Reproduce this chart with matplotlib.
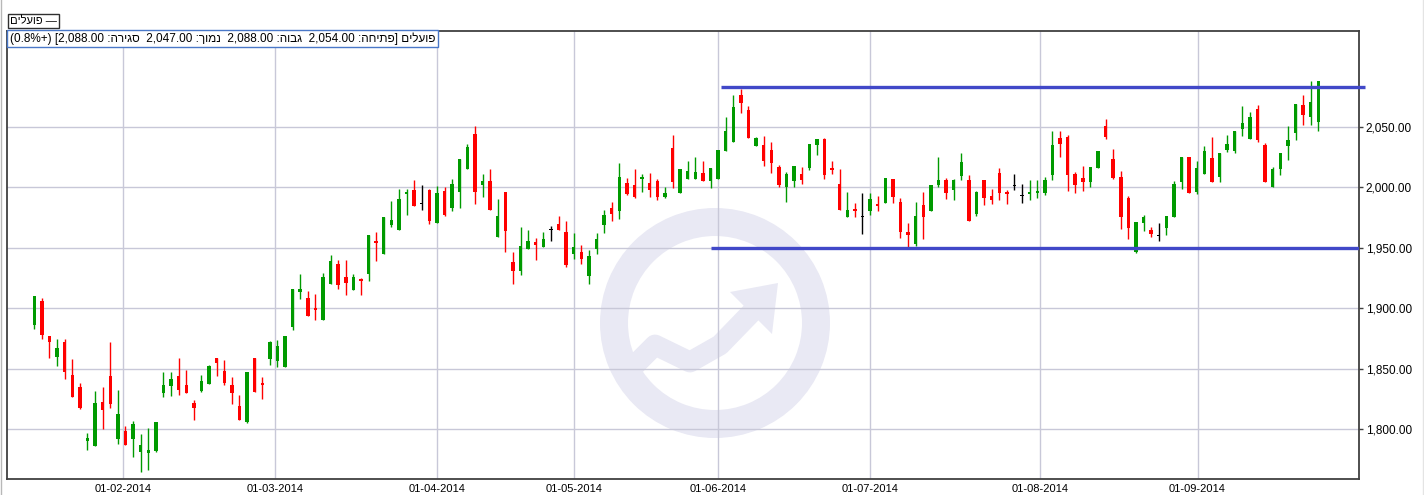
import matplotlib
matplotlib.use('Agg')
import matplotlib.pyplot as plt
from matplotlib.patches import Wedge, Polygon
from matplotlib.lines import Line2D
import numpy as np

# daily OHLC (trading days, 20-01-2014 .. 22-09-2014)
opens = [1886, 1906, 1877, 1860, 1872, 1845, 1835, 1790.5, 1786, 1822.5,
         1844, 1792, 1798.6, 1792, 1781, 1780, 1782, 1830, 1836, 1844,
         1836.6, 1822, 1831.6, 1837.7, 1859, 1848, 1836.6, 1819, 1806, 1859,
         1838.3, 1858, 1856.5, 1851.5, 1885, 1913.8, 1908.6, 1900.3, 1890.6, 1920.4,
         1936.7, 1926, 1915.4, 1924.3, 1928.7, 1955.7, 1945, 1969, 1965, 1994.8,
         1998, 1986, 1998, 1970.6, 1997, 1983.3, 1996.5, 2015.5, 2044, 2002.3,
         2005.3, 1959.3, 1996, 1938.3, 1931, 1949.3, 1955, 1951, 1965, 1970,
         1963.4, 1945.2, 1946.7, 1926.4, 1949.3, 1969.2, 1983, 1980.8, 2003.7, 2002,
         2007, 2003.7, 2005.3, 1992.1, 2032.6, 1995.4, 2007, 2007, 2012, 2005.6,
         2007.2, 2030.4, 2037.8, 2076.5, 2064.1, 2034.5, 2035.1, 2031, 2017.1, 2000.6,
         2005.6, 2011.1, 2016.1, 2035.4, 2040.1, 2016.1, 2002.9, 1975.8, 1982.2, 1975.6,
         1980.8, 1986.2, 1987.4, 2007, 1988, 1963.2, 1953.5, 1985.4, 1980.8, 2002.3,
         2006.2, 1998.2, 2009.7, 2006.2, 1978.3, 2006.2, 1992.9, 2012, 1996.2, 2001,
         1992.7, 1994.8, 1995.6, 1995.7, 2010.3, 2040.9, 2041.7, 2011.1, 2007.8, 2004.7,
         2016.1, 2050.8, 2023.5, 2008.7, 1991.3, 1946.9, 1970.9, 1965.1, 1960.1, 1966.7,
         1975.8, 2004.7, 2025.2, 1996.2, 2011.4, 2024.4, 2008.9, 2031, 2030.1, 2048.3,
         2040.1, 2064.9, 2035.1, 2000, 2015.5, 2034.3, 2045, 2068.2, 2058.3, 2054]
highs = [1910, 1909, 1877, 1875, 1875, 1858, 1838, 1797, 1832, 1835,
         1872, 1832.5, 1802.7, 1807, 1796, 1801, 1806, 1847, 1847, 1859,
         1849, 1824, 1845, 1853, 1859, 1857, 1843, 1828, 1847, 1859,
         1843, 1873, 1874, 1877, 1916, 1928.4, 1914.6, 1912, 1929, 1944,
         1940, 1940, 1928.4, 1925, 1960.7, 1963, 1975.6, 1989, 1998.7, 1998.7,
         2006, 2002, 1998.7, 2001.3, 2000.4, 2007, 2023.5, 2036, 2051, 2011,
         2015.5, 1990.4, 1996, 1946.7, 1967.3, 1965, 1958, 1963, 1968, 1976.4,
         1972.3, 1962.3, 1952.4, 1948.3, 1962.3, 1981.4, 1988, 2020.2, 2007.8, 2015.5,
         2011, 2012.2, 2007, 2000.4, 2043.4, 2015.5, 2021.9, 2025.2, 2021.9, 2016.1,
         2031, 2058.3, 2076.5, 2081.4, 2067.4, 2041.7, 2042.6, 2037.6, 2018.8, 2012.8,
         2018, 2017.1, 2035.9, 2040.1, 2040.9, 2021.9, 2015.5, 1996.2, 1987.1, 1995.4,
         1995.4, 1992.9, 2007.8, 2007, 1991.3, 1970.6, 1988, 1996.2, 2002.1, 2025.2,
         2007.8, 2007, 2028.5, 2010.3, 1997.1, 2006.2, 1998.7, 2016.1, 1997.9, 2011.1,
         2002.9, 2006.2, 2006.2, 2008.7, 2046.7, 2046.7, 2043.4, 2012.8, 2018, 2017.1,
         2030.1, 2056.6, 2031.8, 2013.6, 1992.9, 1971.4, 1977.5, 1967.5, 1970.9, 1976.6,
         2005.3, 2025.2, 2025.2, 2021.9, 2034.3, 2041.7, 2028.5, 2043.4, 2046.7, 2067.4,
         2062.4, 2068.2, 2036.8, 2017.1, 2028.5, 2050.8, 2069.3, 2076.5, 2088, 2088]
lows = [1883, 1875, 1859, 1852, 1842, 1827, 1817, 1783, 1786, 1800.5,
        1818, 1788, 1787.2, 1777, 1765, 1766, 1781, 1827, 1827.5, 1828,
        1830, 1808, 1831, 1837.7, 1844, 1837, 1821, 1808, 1805, 1831,
        1825, 1853, 1851.5, 1851.5, 1882, 1908, 1894, 1890, 1890.6, 1920.4,
        1916, 1911, 1915.4, 1911, 1923, 1939.4, 1945, 1967, 1965, 1977.5,
        1985, 1981.6, 1970, 1970.6, 1976.6, 1980.8, 1983.3, 2015.5, 1986, 1992.4,
        1981.6, 1959.3, 1947, 1920.4, 1928, 1949.3, 1940, 1951, 1955.7, 1965,
        1934.5, 1941, 1937, 1920.4, 1945.2, 1962.6, 1972, 1973.6, 1993.4, 1991.3,
        1996.2, 1992.1, 1989.6, 1991.3, 1999.6, 1995.4, 2007, 2007, 2005.6, 1999.8,
        2007.2, 2030.4, 2037.8, 2061.8, 2041.2, 2034.5, 2018, 2012.2, 2000, 1988.3,
        2000.6, 2003.1, 2014.4, 2027.1, 2007.2, 2011.4, 1981.6, 1975.8, 1975.8, 1961.8,
        1977.5, 1980.8, 1987.4, 1987.4, 1958.4, 1950.5, 1951.8, 1957.6, 1980.8, 2000.6,
        1990.7, 1989.9, 2006.4, 1972.5, 1976.6, 1985.8, 1986.6, 1989.9, 1986.6, 1997.6,
        1987.4, 1989.9, 1991.3, 1993.4, 2006.2, 2025.2, 1997.3, 1995.7, 1997.3, 2000.6,
        2016.1, 2040.1, 2007, 1965.9, 1957.6, 1946, 1964.2, 1959.3, 1956, 1960.9,
        1975.8, 1999, 1995.7, 1994.8, 2011.4, 2004.7, 2004.7, 2029.3, 2028.5, 2042.6,
        2040.1, 2037.6, 2004.7, 2000, 2010.3, 2022.7, 2039.2, 2051.7, 2051.7, 2047]
closes = [1910, 1878, 1872, 1867, 1847, 1827, 1818, 1793, 1822, 1816,
          1821, 1812.6, 1787.2, 1804, 1787, 1783, 1806, 1837, 1842, 1832.5,
          1830, 1817.6, 1840, 1852, 1855, 1838, 1830, 1808, 1847, 1831,
          1836.6, 1872, 1869, 1877, 1916, 1916, 1894, 1899, 1926, 1939,
          1919.6, 1921, 1926, 1923, 1960.7, 1954.3, 1975.6, 1973, 1990.4, 1996.2,
          1985, 1986, 1972.5, 1995.4, 1977.5, 2002.9, 2023.5, 2033.5, 1996.5, 2005.3,
          1981.6, 1976.4, 1964, 1931, 1951.6, 1955.7, 1952.6, 1957.4, 1965, 1965.1,
          1935.6, 1950.7, 1941.1, 1943.3, 1957.4, 1977.2, 1978.3, 2008.7, 1994.8, 1992.1,
          2008.7, 1997.9, 1992.1, 1995.4, 2004.5, 2015.5, 2013.6, 2012.8, 2005.6, 2016.1,
          2031, 2046.7, 2066.5, 2070.1, 2041.2, 2040.9, 2022.1, 2020.5, 2001.7, 2011.1,
          2018, 2006.4, 2035.9, 2040.1, 2010.5, 2014.7, 1981.6, 1981.4, 1980.8, 1975.6,
          1990.4, 1984.9, 2007.8, 1992.4, 1963.4, 1961, 1976.6, 1975.8, 2002.1, 2006.2,
          1995.7, 2006.2, 2021, 1972.5, 1996.2, 1991.6, 1989.9, 1995.7, 1994.8, 2001,
          1992.7, 1996.2, 1997.1, 2005.9, 2035.1, 2035.9, 2010.3, 2001.7, 2004.7, 2017.1,
          2030.1, 2041.7, 2007.8, 1975.8, 1966.7, 1971.4, 1975.8, 1961.8, 1960.1, 1976.6,
          2002.9, 2025.2, 1995.7, 2016.1, 2030.1, 2004.7, 2028.5, 2035.9, 2046.7, 2053.3,
          2058.3, 2039.2, 2004.7, 2015.5, 2028.5, 2039.2, 2069.3, 2059.9, 2070.7, 2088]

# month boundaries on the trading-day axis
month_pos = [11.7, 31.7, 53.0, 71.0, 90.0, 110.0, 132.4, 153.1]
month_labels = ['01-02-2014', '01-03-2014', '01-04-2014', '01-05-2014',
                '01-06-2014', '01-07-2014', '01-08-2014', '01-09-2014']
price_ticks = [1800, 1850, 1900, 1950, 2000, 2050]

# drawn channel lines: [start day, end day], level
resist_days = [90.4, 175.2]
resist_level = 2083
support_days = [89.1, 174.4]
support_level = 1950

W, H = 1424, 495
GREEN = '#009a00'
RED = '#ff0000'
BLUE = '#4148c8'
GRID = '#c8c8d8'
FONT = ['Liberation Sans', 'DejaVu Sans']


def heb(s):
    # matplotlib has no bidi, so hebrew words go in visual order
    return s[::-1]


def px_box(l, t, r, b):
    return [l / W, 1 - b / H, (r - l) / W, (b - t) / H]


fig = plt.figure(figsize=(W / 100, H / 100), dpi=100)
fig.patch.set_facecolor('white')

# watermark behind the chart
bg = fig.add_axes([0, 0, 1, 1], zorder=0)
bg.set_xlim(0, W)
bg.set_ylim(H, 0)
bg.axis('off')
wm = '#e9e9f4'
bg.add_patch(Wedge((715, 323), 115, 0, 360, width=28, color=wm, lw=0))
bg.plot([628, 655, 690, 720, 752], [372, 345, 362, 345, 312], color=wm,
        lw=15, solid_capstyle='butt', solid_joinstyle='round')
bg.add_patch(Polygon([[778, 283], [730, 292], [772, 334]], closed=True, color=wm, lw=0))

ax = fig.add_axes(px_box(7, 31, 1359.3, 479), zorder=1)
ax.patch.set_alpha(0)

x = np.arange(len(opens))
o = np.array(opens, dtype=float)
c = np.array(closes, dtype=float)
cols = [GREEN if cc > oo else (RED if cc < oo else 'black') for oo, cc in zip(o, c)]

ax.vlines(x, lows, highs, colors=cols, lw=1.0, zorder=3)
bottoms = np.minimum(o, c)
heights = np.maximum(np.abs(c - o), 0.9)
ax.bar(x, heights, width=0.45, bottom=bottoms, color=cols, linewidth=0, zorder=3)

ax.plot(resist_days, [resist_level] * 2, color=BLUE, lw=2.4, zorder=4,
        solid_capstyle='butt', clip_on=False)
ax.plot(support_days, [support_level] * 2, color=BLUE, lw=2.4, zorder=4,
        solid_capstyle='butt')

ax.set_xlim(-3.59, 174.39)
ax.set_ylim(1758.9, 2129.4)

ax.set_xticks(month_pos)
ax.set_xticklabels(month_labels, fontsize=8, family=FONT)
ax.set_yticks(price_ticks)
ax.set_yticklabels(['{:,.2f}'.format(v) for v in price_ticks], fontsize=8.5, family=FONT)
ax.yaxis.tick_right()
ax.tick_params(axis='y', length=3, width=1, pad=1.5, color='#404040')
ax.tick_params(axis='x', length=0, pad=3.5)
ax.grid(True, color=GRID, lw=1.0, zorder=0)
ax.set_axisbelow(True)
for sp in ax.spines.values():
    sp.set_color('#404040')
    sp.set_linewidth(1.3)

# legend tag and info line at the top
fig.text(10 / W, 1 - 21 / H, heb('פועלים') + ' —', fontsize=8, family=FONT,
         va='center', ha='left',
         bbox=dict(boxstyle='square,pad=0.2', fc='white', ec='#303030', lw=1))
info = ('(0.8%+) [2,088.00 :' + heb('סגירה') + '  2,047.00 :' + heb('נמוך') +
        '  2,088.00 :' + heb('גבוה') + '  2,054.00 :' + heb('פתיחה') + '] ' + heb('פועלים'))
fig.text(10 / W, 1 - 38.5 / H, info, fontsize=8.5, family=FONT, va='center', ha='left',
         zorder=5,
         bbox=dict(boxstyle='square,pad=0.22', fc='white', ec='#4a78c8', lw=1))

# thin frame lines at the figure edges
fig.add_artist(Line2D([1 / W, 1 / W], [0, 1], color='#b8b8b8', lw=1))
fig.add_artist(Line2D([1 - 1 / W, 1 - 1 / W], [0, 1], color='#e4e4e4', lw=1))

fig.savefig('out.png', dpi=100)
